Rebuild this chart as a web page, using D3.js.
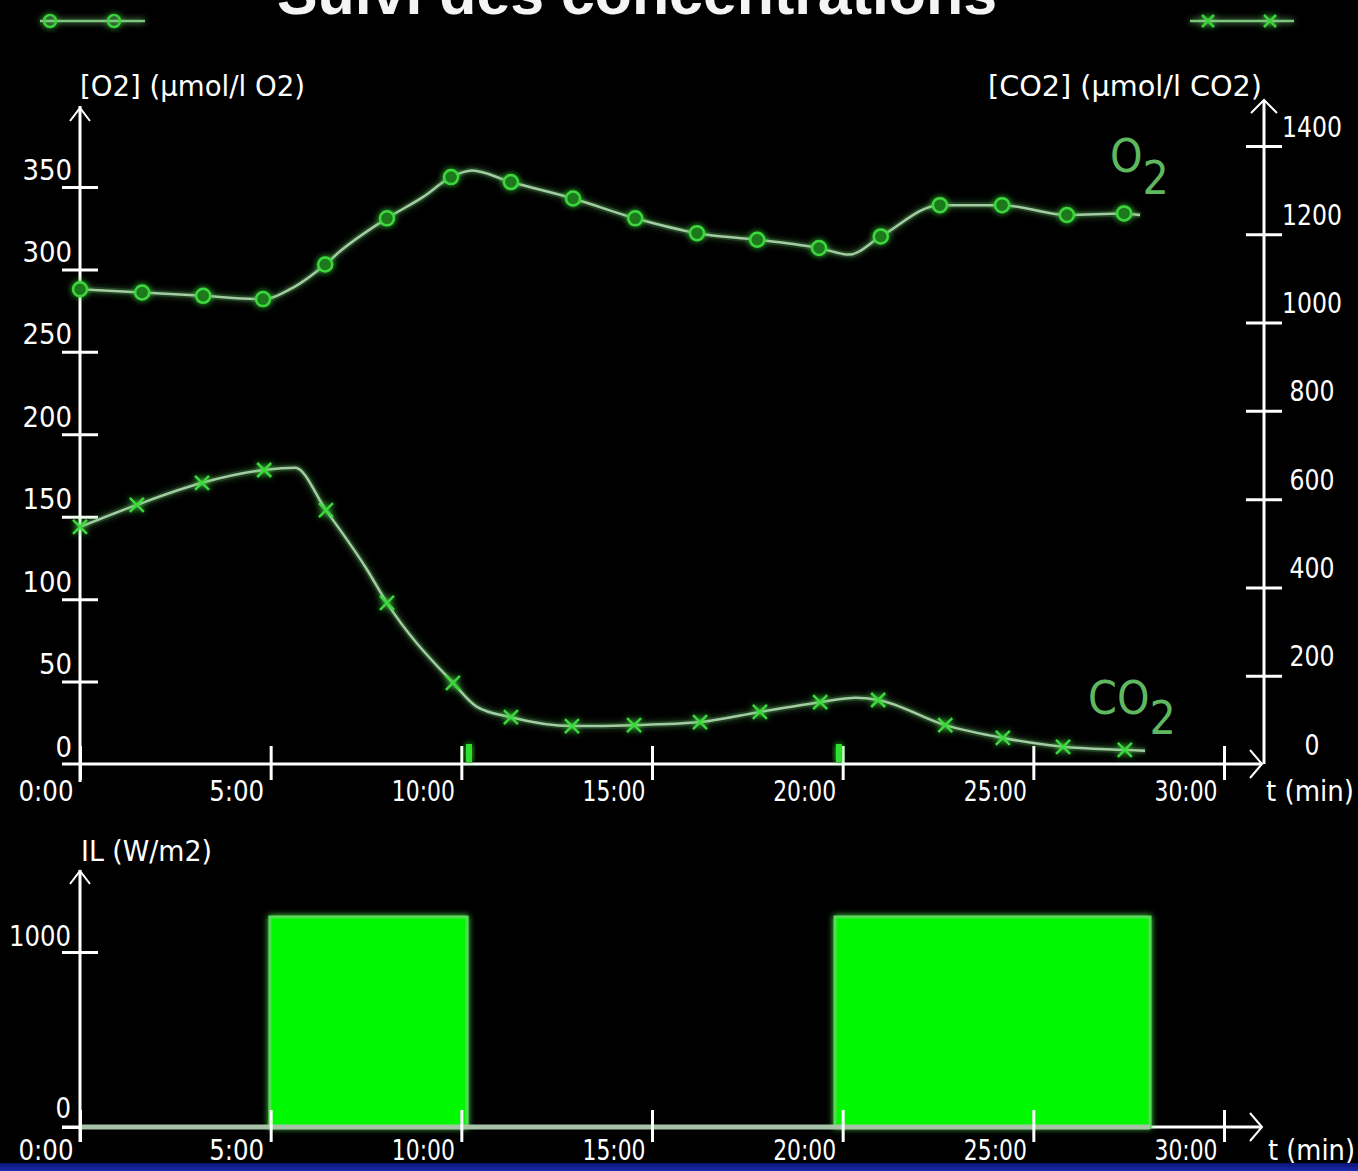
<!DOCTYPE html>
<html lang="fr">
<head>
<meta charset="UTF-8">
<title>Suivi des concentrations</title>
<script src="https://cdn.jsdelivr.net/npm/d3@7"></script>
<style>
  body { margin: 0; background: #000; }
  svg { display: block; }
  .lbl { font-family: "DejaVu Sans Condensed", "DejaVu Sans", sans-serif; fill: #fff; }
</style>
</head>
<body>
<div id="chart"></div>
<script>
// time axis (minutes)
const timeTicks = [0, 5, 10, 15, 20, 25, 30];
const o2Ticks = [0, 50, 100, 150, 200, 250, 300, 350];
const co2Ticks = [0, 200, 400, 600, 800, 1000, 1200, 1400];
const ilTicks = [0, 1000];

// [O2] in µmol/l (1 = marker drawn, 0 = line point only)
const o2Time   = [0, 1.63, 3.23, 4.8, 5.59, 6.43, 6.82, 8.05, 9.0, 9.73, 10.28, 11.3, 12.93, 14.56, 16.18, 17.76, 19.38, 20.17, 21.0, 22.55, 24.18, 25.88, 27.38, 27.8];
const o2Value  = [288, 286, 284, 282, 289, 303, 311, 331, 344, 356, 360, 353, 343, 331, 322, 318, 313, 309, 320, 339, 339, 333, 334, 333];
const o2Marker = [1, 1, 1, 1, 0, 1, 0, 1, 0, 1, 0, 1, 1, 1, 1, 1, 1, 0, 1, 1, 1, 1, 1, 0];

// [CO2] in µmol/l
const co2Time   = [0, 1.49, 3.2, 4.83, 5.64, 6.45, 7.5, 8.05, 9.78, 10.4, 11.3, 12.9, 14.53, 16.26, 17.83, 19.41, 20.35, 20.93, 22.69, 24.2, 25.78, 27.4, 27.93];
const co2Value  = [537, 587, 637, 666, 671, 575, 444, 365, 184, 130, 106, 86, 88, 95, 118, 140, 150, 145, 88, 59, 39, 32, 30];
const co2Marker = [1, 1, 1, 1, 0, 1, 0, 1, 1, 0, 1, 1, 1, 1, 1, 1, 0, 1, 1, 1, 1, 1, 0];

// light intensity IL (W/m2)
const lightStart = [4.98, 19.8];
const lightEnd   = [10.15, 28.06];
const lightLevel = [1200, 1200];
const lightEvents = [10.2, 19.9];

const W = 1358, H = 1171;
const svg = d3.select("#chart").append("svg").attr("width", W).attr("height", H);
svg.append("rect").attr("width", W).attr("height", H).attr("fill", "#000");

const defs = svg.append("defs");
const glow = defs.append("filter").attr("id", "glow").attr("x", "-50%").attr("y", "-50%").attr("width", "200%").attr("height", "200%");
glow.append("feGaussianBlur").attr("stdDeviation", 3).attr("result", "b");
const fm = glow.append("feMerge");
fm.append("feMergeNode").attr("in", "b");
fm.append("feMergeNode").attr("in", "SourceGraphic");

const grad = defs.append("linearGradient").attr("id", "band").attr("x1", 0).attr("y1", 0).attr("x2", 0).attr("y2", 1);
grad.append("stop").attr("offset", 0).attr("stop-color", "#0a1470");
grad.append("stop").attr("offset", 1).attr("stop-color", "#1a2cb0");

// scales
const x = d3.scaleLinear().domain([0, 30]).range([80, 1224]);
const yO2 = d3.scaleLinear().domain([0, 350]).range([764, 187]);
const yCO2 = d3.scaleLinear().domain([0, 1400]).range([764, 146]);
const yIL = d3.scaleLinear().domain([0, 1000]).range([1127, 952]);
const xLeft = x(0), xEnd = x(30) + 38, xRight = x(30) + 40;

const fmtTime = d => d + ":00";
const fmtNum = d3.format("d");
const white = "#fff";

function line(x1, y1, x2, y2, w) {
  svg.append("line").attr("x1", x1).attr("y1", y1).attr("x2", x2).attr("y2", y2)
    .attr("stroke", white).attr("stroke-width", w || 3);
}
function chevron(pts) {
  svg.append("polyline").attr("points", pts.map(p => p.join(",")).join(" "))
    .attr("fill", "none").attr("stroke", white).attr("stroke-width", 2);
}
function cleanAxis(g) {
  g.select(".domain").remove();
  g.attr("font-size", null).attr("font-family", null);
  g.selectAll(".tick line").attr("stroke", white).attr("stroke-width", 3);
  g.selectAll(".tick text").attr("class", "lbl").attr("fill", white).attr("dy", null)
    .style("font-size", "29px");
}

// ---------- title & legend ----------
svg.append("text").attr("x", 637).attr("y", 14).attr("text-anchor", "middle")
  .attr("font-family", "Liberation Sans, Arial, sans-serif").attr("font-weight", "bold")
  .attr("font-size", 62).attr("fill", "#f4f4f4")
  .attr("textLength", 720).attr("lengthAdjust", "spacingAndGlyphs")
  .text("Suivi des concentrations");

const legO2 = svg.append("g").attr("filter", "url(#glow)");
legO2.append("line").attr("x1", 40).attr("x2", 145).attr("y1", 21).attr("y2", 21).attr("stroke", "#7cc87c").attr("stroke-width", 2.5);
[50, 114].forEach(cx => legO2.append("circle").attr("cx", cx).attr("cy", 21).attr("r", 6)
  .attr("fill", "none").attr("stroke", "#3cd23c").attr("stroke-width", 2.5));
const legCO2 = svg.append("g").attr("filter", "url(#glow)");
legCO2.append("line").attr("x1", 1190).attr("x2", 1294).attr("y1", 21).attr("y2", 21).attr("stroke", "#7cc87c").attr("stroke-width", 2.5);
[1208, 1270].forEach(cx => legCO2.append("path").attr("d", `M${cx - 6},${15}L${cx + 6},${27}M${cx - 6},${27}L${cx + 6},${15}`)
  .attr("stroke", "#3cd23c").attr("stroke-width", 2.5));

// ---------- top chart ----------
svg.append("text").attr("class", "lbl").attr("x", 80).attr("y", 96).style("font-size", "28px")
  .attr("textLength", 225).attr("lengthAdjust", "spacingAndGlyphs").text("[O2] (µmol/l O2)");
svg.append("text").attr("class", "lbl").attr("x", 1262).attr("y", 96).attr("text-anchor", "end").style("font-size", "28px")
  .attr("textLength", 274).attr("lengthAdjust", "spacingAndGlyphs").text("[CO2] (µmol/l CO2)");

// axes lines
line(xLeft, 106, xLeft, 782);
chevron([[xLeft - 10, 121], [xLeft, 108], [xLeft + 10, 121]]);
line(xRight, 100, xRight, yCO2(0));
chevron([[xRight - 13, 113], [xRight, 100], [xRight + 13, 113]]);
line(62, yO2(0), xEnd, yO2(0));
chevron([[xEnd - 12, yO2(0) - 14], [xEnd, yO2(0)], [xEnd - 12, yO2(0) + 14]]);

const gxTop = svg.append("g").attr("transform", `translate(0,${yO2(0)})`)
  .call(d3.axisBottom(x).tickValues(timeTicks).tickFormat(fmtTime));
cleanAxis(gxTop);
gxTop.selectAll(".tick line").attr("y1", -18).attr("y2", 16);
gxTop.selectAll(".tick text").attr("x", -7).attr("y", 37).attr("text-anchor", "end")
  .attr("textLength", d => d >= 10 ? 63 : 55).attr("lengthAdjust", "spacingAndGlyphs");
svg.append("text").attr("class", "lbl").attr("x", 1266).attr("y", 801).style("font-size", "29px")
  .attr("textLength", 88).attr("lengthAdjust", "spacingAndGlyphs").text("t (min)");

const gyO2 = svg.append("g").attr("transform", `translate(${xLeft},0)`)
  .call(d3.axisLeft(yO2).tickValues(o2Ticks).tickFormat(fmtNum));
cleanAxis(gyO2);
gyO2.selectAll(".tick line").attr("x1", -18).attr("x2", 18).filter(d => d === 0).remove();
gyO2.selectAll(".tick text").attr("x", -8).attr("y", -8).attr("text-anchor", "end")
  .attr("textLength", d => String(d).length * 16.5).attr("lengthAdjust", "spacingAndGlyphs");

const gyCO2 = svg.append("g").attr("transform", `translate(${xRight},0)`)
  .call(d3.axisRight(yCO2).tickValues(co2Ticks).tickFormat(fmtNum));
cleanAxis(gyCO2);
gyCO2.selectAll(".tick line").attr("x1", -18).attr("x2", 18).filter(d => d === 0).remove();
gyCO2.selectAll(".tick text").attr("x", 48).attr("y", -10).attr("text-anchor", "middle")
  .attr("textLength", d => String(d).length * 15).attr("lengthAdjust", "spacingAndGlyphs");

// light switch markers on the time axis
svg.selectAll(".evt").data(lightEvents).enter().append("rect").attr("class", "evt")
  .attr("x", d => x(d) - 3).attr("y", yO2(0) - 20).attr("width", 6).attr("height", 18)
  .attr("fill", "#2ee02e").attr("filter", "url(#glow)");

// series
function drawSeries(times, values, marks, y, shape) {
  const pts = times.map((t, i) => ({ t, v: values[i], m: marks[i] }));
  const path = d3.line().x(d => x(d.t)).y(d => y(d.v)).curve(d3.curveMonotoneX);
  svg.append("path").datum(pts).attr("d", path).attr("fill", "none")
    .attr("stroke", "#6fd86f").attr("stroke-width", 6).attr("opacity", 0.3).attr("filter", "url(#glow)");
  svg.append("path").datum(pts).attr("d", path).attr("fill", "none")
    .attr("stroke", "#a4cca4").attr("stroke-width", 2.5);
  const g = svg.append("g").attr("filter", "url(#glow)");
  const mk = pts.filter(d => d.m);
  if (shape === "circle") {
    g.selectAll("circle").data(mk).enter().append("circle")
      .attr("cx", d => x(d.t)).attr("cy", d => y(d.v)).attr("r", 7)
      .attr("fill", "#1f7a1f").attr("stroke", "#3cd83c").attr("stroke-width", 2.5);
  } else {
    g.selectAll("path").data(mk).enter().append("path")
      .attr("d", d => { const cx = x(d.t), cy = y(d.v), s = 7;
        return `M${cx - s},${cy - s}L${cx + s},${cy + s}M${cx - s},${cy + s}L${cx + s},${cy - s}`; })
      .attr("stroke", "#3cd83c").attr("stroke-width", 2.5);
  }
}
drawSeries(o2Time, o2Value, o2Marker, yO2, "circle");
drawSeries(co2Time, co2Value, co2Marker, yCO2, "cross");

// series names
const nameStyle = t => t.attr("font-family", "DejaVu Sans Condensed, DejaVu Sans, sans-serif")
  .attr("font-size", 46).attr("fill", "#5fb85f");
const tO2 = svg.append("text").attr("x", 1110).attr("y", 172).call(nameStyle);
tO2.append("tspan").text("O");
tO2.append("tspan").attr("dy", 22).text("2");
const tCO2 = svg.append("text").attr("x", 1088).attr("y", 714).call(nameStyle);
tCO2.append("tspan").text("CO");
tCO2.append("tspan").attr("dy", 20).text("2");

// ---------- bottom chart ----------
svg.append("text").attr("class", "lbl").attr("x", 81).attr("y", 861).style("font-size", "28px")
  .attr("textLength", 131).attr("lengthAdjust", "spacingAndGlyphs").text("IL (W/m2)");

line(xLeft, 870, xLeft, 1142);
chevron([[xLeft - 10, 884], [xLeft, 871], [xLeft + 10, 884]]);
line(62, yIL(0), xEnd, yIL(0));
chevron([[xEnd - 12, yIL(0) - 14], [xEnd, yIL(0)], [xEnd - 12, yIL(0) + 14]]);

// light periods
svg.selectAll(".light").data(lightStart).enter().append("rect").attr("class", "light")
  .attr("x", (d, i) => x(d)).attr("y", (d, i) => yIL(lightLevel[i]))
  .attr("width", (d, i) => x(lightEnd[i]) - x(d))
  .attr("height", (d, i) => yIL(0) - yIL(lightLevel[i]))
  .attr("fill", "#00f800").attr("stroke", "#58dc58").attr("stroke-width", 3)
  .attr("filter", "url(#glow)");

// IL baseline (zero level) drawn along the series extent
svg.append("line").attr("x1", x(0)).attr("x2", x(d3.max(lightEnd))).attr("y1", yIL(0)).attr("y2", yIL(0))
  .attr("stroke", "#a8c4a8").attr("stroke-width", 5);

const gxBot = svg.append("g").attr("transform", `translate(0,${yIL(0)})`)
  .call(d3.axisBottom(x).tickValues(timeTicks).tickFormat(fmtTime));
cleanAxis(gxBot);
gxBot.selectAll(".tick line").attr("y1", -17).attr("y2", 15);
gxBot.selectAll(".tick text").attr("x", -7).attr("y", 33).attr("text-anchor", "end")
  .attr("textLength", d => d >= 10 ? 63 : 55).attr("lengthAdjust", "spacingAndGlyphs");
svg.append("text").attr("class", "lbl").attr("x", 1268).attr("y", 1160).style("font-size", "29px")
  .attr("textLength", 87).attr("lengthAdjust", "spacingAndGlyphs").text("t (min)");

const gyIL = svg.append("g").attr("transform", `translate(${xLeft},0)`)
  .call(d3.axisLeft(yIL).tickValues(ilTicks).tickFormat(fmtNum));
cleanAxis(gyIL);
gyIL.selectAll(".tick line").attr("x1", -18).attr("x2", d => d === 0 ? 0 : 18);
gyIL.selectAll(".tick text").attr("x", -9).attr("y", d => d === 0 ? -10 : -7).attr("text-anchor", "end")
  .attr("textLength", d => String(d).length * 15.5).attr("lengthAdjust", "spacingAndGlyphs");

// bottom blue band
svg.append("rect").attr("x", 0).attr("y", 1163).attr("width", W).attr("height", 8).attr("fill", "url(#band)");
</script>
</body>
</html>
